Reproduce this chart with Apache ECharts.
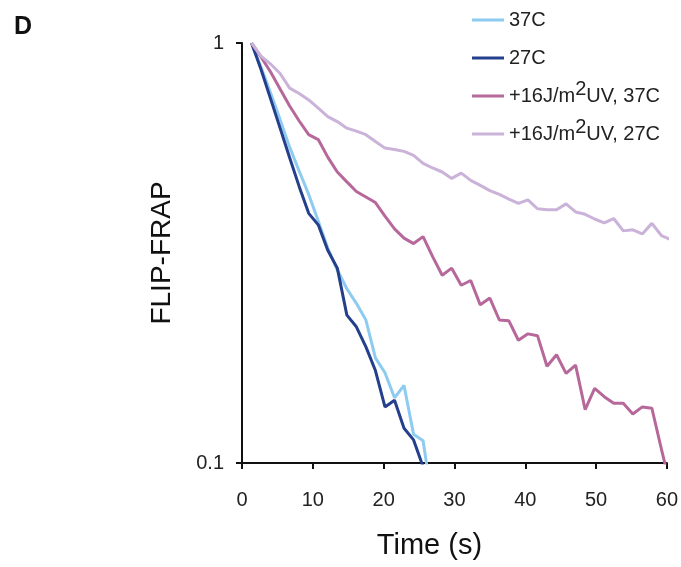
<!DOCTYPE html>
<html><head><meta charset="utf-8">
<script src="https://cdn.jsdelivr.net/npm/echarts@6/dist/echarts.min.js"></script>
<style>html,body{margin:0;padding:0;background:#fff}#c{width:681px;height:567px}</style>
</head><body><div id="c"></div><script>
// Time points (s)
const timeS = [1.35, 2.69, 4.04, 5.38, 6.73, 8.08, 9.42, 10.77, 12.11, 13.46, 14.81, 16.15, 17.50, 18.84, 20.19, 21.54, 22.88, 24.23, 25.57, 26.92, 28.27, 29.61, 30.96, 32.30, 33.65, 35.00, 36.34, 37.69, 39.03, 40.38, 41.73, 43.07, 44.42, 45.76, 47.11, 48.46, 49.80, 51.15, 52.49, 53.84, 55.19, 56.53, 57.88, 59.22, 60.57];
// FLIP-FRAP values
const ctl37 = [1.0, 0.875, 0.76, 0.657, 0.565, 0.495, 0.436, 0.377, 0.325, 0.288, 0.260, 0.240, 0.219, 0.178, 0.164, 0.143, 0.153, 0.117, 0.113, 0.080];
const ctl27 = [1.0, 0.865, 0.736, 0.627, 0.533, 0.455, 0.393, 0.369, 0.321, 0.291, 0.225, 0.211, 0.189, 0.166, 0.136, 0.141, 0.121, 0.1135, 0.098];
const uv37 = [1.0, 0.926, 0.853, 0.777, 0.708, 0.652, 0.605, 0.589, 0.535, 0.493, 0.467, 0.443, 0.430, 0.417, 0.387, 0.361, 0.343, 0.333, 0.346, 0.310, 0.280, 0.291, 0.265, 0.272, 0.238, 0.247, 0.219, 0.218, 0.196, 0.203, 0.201, 0.170, 0.181, 0.1635, 0.171, 0.134, 0.1506, 0.1438, 0.1387, 0.1387, 0.1308, 0.136, 0.135, 0.108, 0.087];
const uv27 = [1.0, 0.931, 0.891, 0.846, 0.781, 0.758, 0.732, 0.700, 0.668, 0.650, 0.627, 0.617, 0.605, 0.583, 0.562, 0.558, 0.552, 0.540, 0.517, 0.504, 0.493, 0.476, 0.490, 0.471, 0.458, 0.445, 0.436, 0.425, 0.415, 0.423, 0.403, 0.401, 0.401, 0.414, 0.396, 0.391, 0.381, 0.373, 0.382, 0.357, 0.359, 0.351, 0.372, 0.348, 0.340];
const seriesNames = ['37C', '27C', '+16J/m2UV, 37C', '+16J/m2UV, 27C'];
const seriesValues = [ctl37, ctl27, uv37, uv27];
const seriesColors = ['#8ecbf0', '#243f8c', '#b7689a', '#cab2d9'];
const xMin = 0, xMax = 60, xStep = 10;
const yMin = 0.1, yMax = 1;

const FONT = '"Liberation Sans", Arial, sans-serif';
const chart = echarts.init(document.getElementById('c'), null, {renderer: 'canvas'});
chart.setOption({
  animation: false,
  backgroundColor: '#fff',
  title: {text: 'D', left: 9, top: 10, textStyle: {fontFamily: FONT, fontWeight: 'bold', fontSize: 25, color: '#111'}},
  grid: {left: 242, right: 14, top: 43, bottom: 104, containLabel: false},
  legend: {
    orient: 'vertical', left: 467, top: -3, itemWidth: 32, itemHeight: 3, itemGap: 2, icon: 'rect',
    data: seriesNames,
    formatter: n => n.replace('m2', 'm{sup|2}'),
    textStyle: {fontFamily: FONT, fontSize: 20, color: '#222', lineHeight: 36,
      rich: {sup: {fontFamily: FONT, fontSize: 20, color: '#222', padding: [0, 0, 14, 0], lineHeight: 20}}}
  },
  xAxis: {
    type: 'value', min: xMin, max: xMax, interval: xStep,
    name: 'Time (s)', nameLocation: 'middle', nameGap: 68,
    nameTextStyle: {fontFamily: FONT, fontSize: 29, color: '#111', padding: [0, 50, 0, 0]},
    axisLine: {onZero: false, lineStyle: {color: '#111', width: 2}},
    axisTick: {show: true, inside: false, length: 6, lineStyle: {color: '#111', width: 2}},
    axisLabel: {fontFamily: FONT, fontSize: 20, color: '#222', margin: 27},
    splitLine: {show: false}
  },
  yAxis: {
    type: 'log', logBase: 10, min: yMin, max: yMax,
    name: 'FLIP-FRAP', nameLocation: 'middle', nameGap: 66,
    nameTextStyle: {fontFamily: FONT, fontSize: 28, color: '#111'},
    axisLine: {show: true, lineStyle: {color: '#111', width: 2}},
    axisTick: {show: true, inside: false, length: 6, lineStyle: {color: '#111', width: 2}},
    minorTick: {show: false},
    axisLabel: {fontFamily: FONT, fontSize: 20, color: '#222', margin: 18, formatter: v => String(+v.toPrecision(2))},
    splitLine: {show: false}
  },
  series: seriesNames.map((name, k) => ({
    name, type: 'line', showSymbol: false, symbol: 'none', clip: true,
    color: seriesColors[k],
    lineStyle: {width: 3, color: seriesColors[k]},
    data: seriesValues[k].map((v, i) => [timeS[i], v])
  }))
});
</script></body></html>
